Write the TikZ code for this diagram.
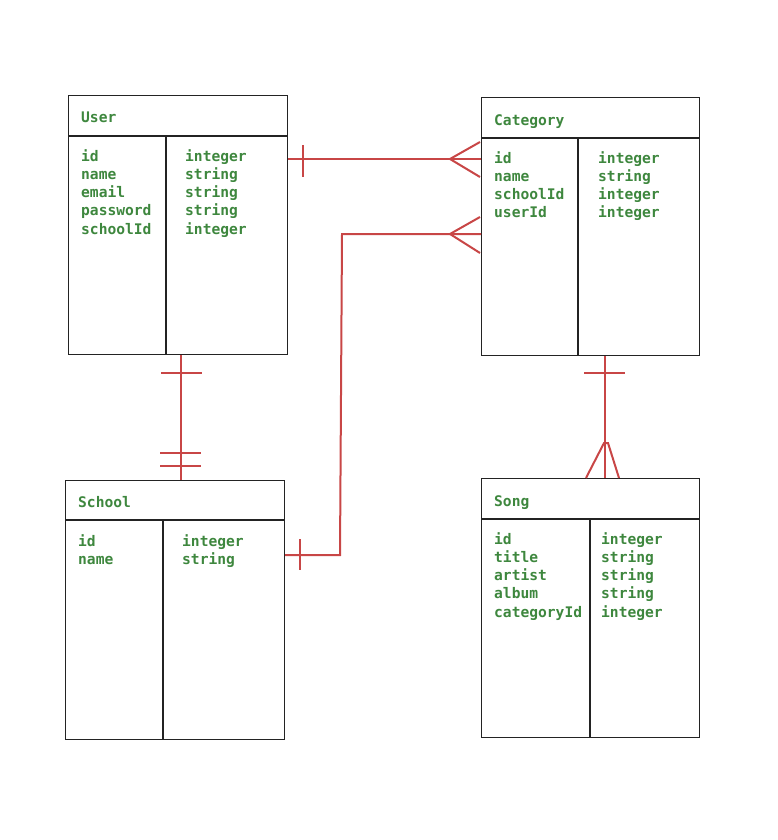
\documentclass[tikz,border=0pt]{standalone}
\usepackage{fontspec}
\setmonofont{DejaVu Sans Mono}
\definecolor{fieldgreen}{RGB}{62,135,62}
\definecolor{relred}{RGB}{200,70,70}
\definecolor{boxline}{RGB}{35,35,35}
\begin{document}
\begin{tikzpicture}[x=1pt,y=-1pt,
  tbl/.style={draw=boxline,line width=1.1pt,anchor=north west,inner sep=0pt},
  sep/.style={draw=boxline,line width=1.1pt},
  txt/.style={text=fieldgreen,font=\ttfamily\bfseries\fontsize{14.6pt}{18.3pt}\selectfont,align=left,anchor=north west,inner sep=0pt},
  rel/.style={draw=relred,line width=2pt}]
\useasboundingbox (0,0) rectangle (778,840);
% tables
\node[tbl,minimum width=219pt,minimum height=259pt] (user) at (68,95) {};
\node[tbl,minimum width=218pt,minimum height=258pt] (cat) at (481,97) {};
\node[tbl,minimum width=219pt,minimum height=259pt] (school) at (65,480) {};
\node[tbl,minimum width=218pt,minimum height=259pt] (song) at (481,478) {};
% separators
\draw[sep] (68,136) -- (287,136) (166,136) -- (166,354);
\draw[sep] (481,138) -- (699,138) (578,138) -- (578,355);
\draw[sep] (65,520) -- (284,520) (163,520) -- (163,739);
\draw[sep] (481,519) -- (699,519) (590,519) -- (590,737);
% texts
\node[txt] (usert) at (81,112) {User};
\node[txt] (userf) at (81,149) {id\\name\\email\\password\\schoolId};
\node[txt] (usery) at (185,149) {integer\\string\\string\\string\\integer};
\node[txt] (catt) at (494,114) {Category};
\node[txt] (catf) at (494,151) {id\\name\\schoolId\\userId};
\node[txt] (caty) at (598,151) {integer\\string\\integer\\integer};
\node[txt] (schoolt) at (78,496) {School};
\node[txt] (schoolf) at (78,534) {id\\name};
\node[txt] (schooly) at (182,534) {integer\\string};
\node[txt] (songt) at (494,495) {Song};
\node[txt] (songf) at (494,532) {id\\title\\artist\\album\\categoryId};
\node[txt] (songy) at (601,532) {integer\\string\\string\\string\\integer};
% relationships
\coordinate (ucA) at (user.east |- 0,159);
\coordinate (ucB) at (cat.west |- 0,159);
\draw[rel] (ucA) -- (ucB);
\draw[rel] (303,145) -- (303,177);
\draw[rel] (480,142) -- (450,159) -- (480,177);
\coordinate (csA) at (cat.west |- 0,234);
\coordinate (csB) at (school.east |- 0,555);
\draw[rel] (csA) -- (342,234) -- (340,555) -- (csB);
\draw[rel] (300,539) -- (300,570);
\draw[rel] (480,217) -- (450,234) -- (480,253);
\coordinate (usA) at (user.south -| 181,0);
\coordinate (usB) at (school.north -| 181,0);
\draw[rel] (usA) -- (usB);
\draw[rel] (161,373) -- (202,373);
\draw[rel] (160,453) -- (201,453) (160,466) -- (201,466);
\coordinate (ssA) at (cat.south -| 605,0);
\coordinate (ssB) at (song.north -| 605,0);
\draw[rel] (ssA) -- (ssB);
\draw[rel] (584,373) -- (625,373);
\draw[rel] (586,478) -- (604,443) -- (608,443) -- (619,478);
\end{tikzpicture}
\end{document}
